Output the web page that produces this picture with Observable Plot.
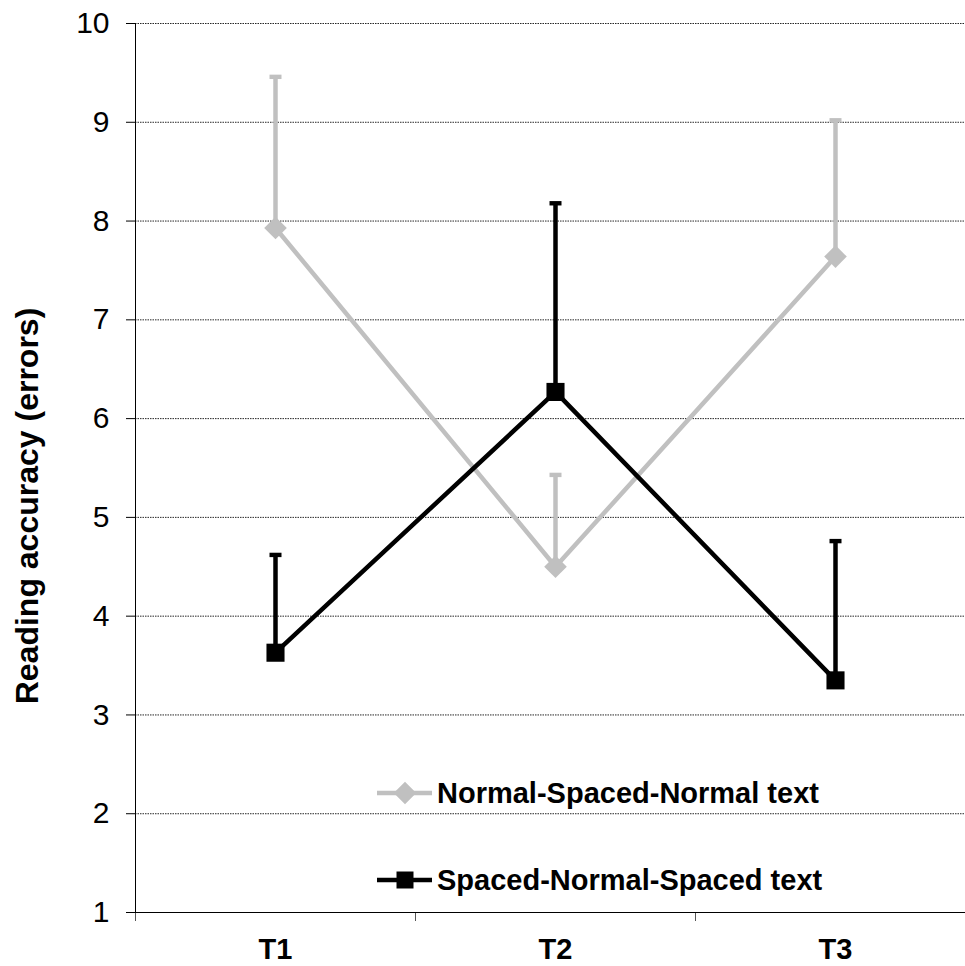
<!DOCTYPE html>
<html><head><meta charset="utf-8">
<script src="https://cdn.jsdelivr.net/npm/d3@7"></script>
<script src="https://cdn.jsdelivr.net/npm/@observablehq/plot@0.6"></script>
<style>
html,body{margin:0;padding:0;background:#fff;overflow:hidden}
#chart{position:relative;width:965px;height:966px}
</style></head><body><div id="chart"></div>
<script>
const categories = ["T1", "T2", "T3"];
const seriesNames = ["Normal-Spaced-Normal text", "Spaced-Normal-Spaced text"];
const seriesColors = ["#c0c0c0", "#000000"];
const seriesSymbols = ["diamond2", "square"];
const normalSpacedNormal = [7.93, 4.50, 7.64];
const normalSpacedNormalUpper = [9.46, 5.43, 9.02];
const spacedNormalSpaced = [3.63, 6.27, 3.35];
const spacedNormalSpacedUpper = [4.62, 8.18, 4.76];
const yTicks = [1, 2, 3, 4, 5, 6, 7, 8, 9, 10];
const yLabel = "Reading accuracy (errors)";

const FONT = "'Liberation Sans', Arial, Helvetica, sans-serif";
const means = [normalSpacedNormal, spacedNormalSpaced];
const uppers = [normalSpacedNormalUpper, spacedNormalSpacedUpper];
const rows = [];
seriesNames.forEach((s, k) => categories.forEach((c, i) =>
  rows.push({series: s, k, cat: c, pos: i + 0.5, value: means[k][i], upper: uppers[k][i]})));
const boundaries = d3.range(categories.length + 1);
const centers = categories.map((c, i) => i + 0.5);

const capSymbol = {draw(ctx) { ctx.moveTo(-6, -2.2); ctx.lineTo(6, -2.2); ctx.lineTo(6, 2.2); ctx.lineTo(-6, 2.2); ctx.closePath(); }};

const seriesMarks = seriesNames.flatMap((s, k) => {
  const d = rows.filter(r => r.k === k);
  const c = seriesColors[k];
  return [
    Plot.line(d, {x: "pos", y: "value", stroke: c, strokeWidth: 4.5}),
    Plot.ruleX(d, {x: "pos", y1: "value", y2: "upper", stroke: c, strokeWidth: 4.5}),
    Plot.dot(d, {x: "pos", y: "upper", symbol: capSymbol, fill: c, stroke: "none"}),
    Plot.dot(d, {x: "pos", y: "value", symbol: seriesSymbols[k], r: 10.2, fill: c, stroke: "none"})
  ];
});

const chart = Plot.plot({
  width: 965, height: 966,
  marginLeft: 135, marginRight: 0, marginTop: 23, marginBottom: 54,
  style: {fontFamily: FONT, background: "#fff", color: "#000"},
  x: {type: "linear", domain: [0, categories.length], range: [135, 975]},
  y: {domain: [1, 10]},
  marks: [
    Plot.gridY(yTicks.slice(1), {stroke: "#000", strokeOpacity: 0.85, strokeDasharray: "1.5,1", strokeWidth: 1}),
    Plot.axisY(yTicks, {tickSize: 9, tickPadding: 17, fontSize: 30, tickFormat: d => String(d), label: null, stroke: "#000"}),
    Plot.axisX(centers, {tickSize: 0, tickPadding: 26, fontSize: 29, fontWeight: "bold", tickFormat: v => categories[Math.floor(v)], label: null}),
    Plot.axisX(boundaries, {tickSize: 9, tickFormat: () => "", label: null, stroke: "#555"}),
    Plot.ruleX([0], {stroke: "#000"}),
    Plot.ruleY([1], {stroke: "#000"}),
    Plot.text([yLabel], {text: d => d, frameAnchor: "left", textAnchor: "middle", rotate: -90, dx: -108, dy: 38, fontSize: 32, fontWeight: "bold", fill: "#000"}),
    ...seriesMarks
  ]
});
document.getElementById("chart").appendChild(chart);

// legend inside plot area
const svg = d3.select(chart);
const legendPos = [{y: 793}, {y: 880}];
const lg = svg.append("g").attr("font-family", FONT).attr("text-anchor", "start");
seriesNames.forEach((name, k) => {
  const g = lg.append("g").attr("transform", `translate(377,${legendPos[k].y})`);
  g.append("line").attr("x1", 0).attr("x2", 55).attr("y1", 0).attr("y2", 0)
    .attr("stroke", seriesColors[k]).attr("stroke-width", 4.5);
  const sym = k === 0 ? d3.symbolDiamond2 : d3.symbolSquare;
  const size = k === 0 ? 19 * 19 * 0.9 : 17 * 17;
  g.append("path").attr("d", d3.symbol(sym, size)()).attr("transform", "translate(28,0)").attr("fill", seriesColors[k]);
  g.append("text").attr("x", 60).attr("y", 0).attr("dy", "0.35em").attr("text-anchor", "start")
    .attr("font-size", 29).attr("font-weight", "bold").attr("fill", "#000").text(name);
});
</script>
</body></html>
